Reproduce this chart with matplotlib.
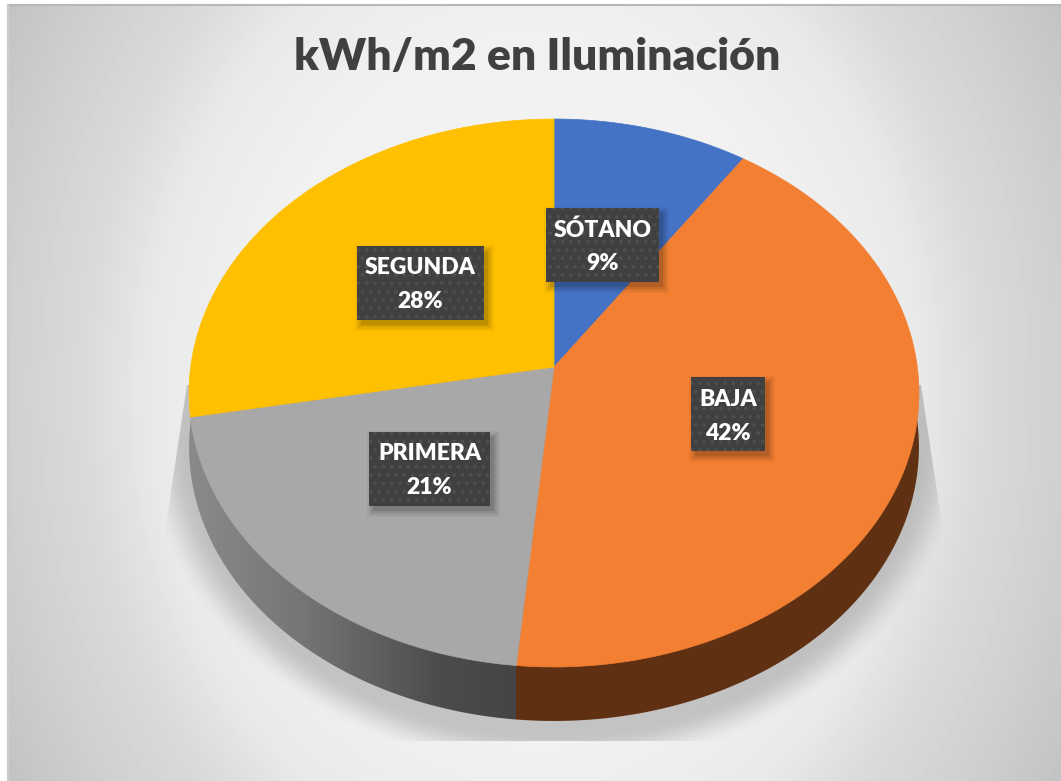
#!/usr/bin/env python3
"""Pie chart of lighting kWh/m2 per floor, drawn as a tilted 3D disc."""
import matplotlib
matplotlib.use("Agg")
import matplotlib.pyplot as plt
from matplotlib.patches import Polygon, Rectangle
import numpy as np

plt.rcParams["font.family"] = ["Lato", "DejaVu Sans"]
plt.rcParams["hatch.linewidth"] = 1.5

floors = ["SÓTANO", "BAJA", "PRIMERA", "SEGUNDA"]
shares = [9.49, 42.01, 20.6, 27.9]
pct_labels = ["9%", "42%", "21%", "28%"]
title = "kWh/m2 en Iluminación"

colors = ["#4472c4", "#f27f32", "#a8a8a8", "#ffc000"]
boxes = [(546, 208, 113, 74), (691, 377, 74, 74), (369, 432, 121, 74), (357, 246, 127, 74)]

W, H = 1061, 781
# disc geometry in pixels, with a small perspective term
cx, cy = 554, 367
kk, by, bx = 0.0949, 271.5, 363.3
depth = 54


def project(theta, radius=1.0):
    """Map an angle (clockwise from the top) of the unit disc onto the screen."""
    u = radius * np.sin(theta)
    v = radius * np.cos(theta)
    w = 1 + kk * v
    return cx + bx * u / w, cy - by * v / w


fig = plt.figure(figsize=(W / 100, H / 100), dpi=100, facecolor="white")
ax = fig.add_axes([0, 0, 1, 1])
ax.set_xlim(0, W)
ax.set_ylim(H, 0)
ax.axis("off")

# background
xx, yy = np.meshgrid(np.arange(8, W) + 0.5, np.arange(5, H) + 0.5)
dist = np.hypot(xx - 535, 0.8 * (yy - 390))
bg = np.interp(dist, [0, 294, 385, 450, 520, 609, 700], [245, 240, 233, 218, 209, 195, 180])
ax.imshow(bg, cmap="gray", vmin=0, vmax=255, extent=(8, W, H, 5), aspect="auto",
          interpolation="bilinear", zorder=0)
ax.plot([8, W], [4.5, 4.5], color="#b8b8b8", lw=1.5, zorder=1)
ax.plot([7.5, 7.5], [5, H], color="#cdcdcd", lw=1.5, zorder=1)

# floor shadow
sx, sy = np.meshgrid(np.arange(150, 960) + 0.5, np.arange(370, 742) + 0.5)
rr = np.hypot((sx - cx) / 350, (sy - 430) / 290)
fade = np.clip((1.18 - rr) / 0.13, 0, 1)
alpha = fade * fade * (3 - 2 * fade) * 0.30
shadow = np.zeros(sx.shape + (4,))
shadow[..., :3] = 0.35
shadow[..., 3] = alpha
im = ax.imshow(shadow, extent=(150, 960, 742, 370), aspect="auto", zorder=2)
im.set_clip_path(Polygon([(187, 385), (163, 545), (163, 741), (945, 741), (945, 545), (921, 385)],
                         transform=ax.transData))

# side wall
angles = 2 * np.pi * np.cumsum([0] + shares) / sum(shares)
ring = np.linspace(0, 2 * np.pi, 400)
rx_, ry_ = project(ring)
wall_clip = np.column_stack([rx_, ry_ + depth])
split_x = project(angles[2])[0]
wx = np.arange(180, 930) + 0.5
wall = np.zeros((1, wx.size, 3))
for i in range(3):
    wall[0, :, i] = np.interp(wx, [190, 300, 440, split_x], [138, 118, 76, 68]) / 255
wall[0, wx > split_x] = np.array([0x5f, 0x31, 0x12]) / 255
im = ax.imshow(wall, extent=(180, 930, 740, 370), aspect="auto", interpolation="nearest", zorder=3)
im.set_clip_path(Polygon(wall_clip, transform=ax.transData))

# top faces
for start, end, color in zip(angles[:-1], angles[1:], colors):
    theta = np.linspace(start, end, 200)
    px, py = project(theta)
    pts = np.column_stack([np.r_[cx, px], np.r_[cy, py]])
    ax.add_patch(Polygon(pts, closed=True, facecolor=color, edgecolor=color, lw=0.5, zorder=4))

ax.set_xlim(0, W)
ax.set_ylim(H, 0)

# data labels
for name, pct, (bx0, by0, bw, bh) in zip(floors, pct_labels, boxes):
    for grow, a in [(6, 0.04), (4, 0.06), (2, 0.08), (0, 0.10)]:
        ax.add_patch(Rectangle((bx0 + 4 - grow, by0 + 5 - grow), bw + 2 * grow, bh + 2 * grow,
                               facecolor="black", alpha=a, lw=0, zorder=5))
    ax.add_patch(Rectangle((bx0, by0), bw, bh, facecolor="#404040", edgecolor="none", zorder=6))
    ax.add_patch(Rectangle((bx0, by0), bw, bh, facecolor="none", edgecolor="#4e4e4e",
                           hatch="..", lw=0, zorder=6))
    ax.text(bx0 + bw / 2, by0 + 22, name, color="white", fontsize=16.5, fontweight="heavy",
            ha="center", va="center", zorder=7)
    ax.text(bx0 + bw / 2, by0 + 56, pct, color="white", fontsize=16.5, fontweight="heavy",
            ha="center", va="center", zorder=7)

ax.text(537, 57, title, color="#404040", fontsize=32, fontweight="heavy",
        ha="center", va="center", zorder=7)

fig.savefig("out.png", dpi=100)
